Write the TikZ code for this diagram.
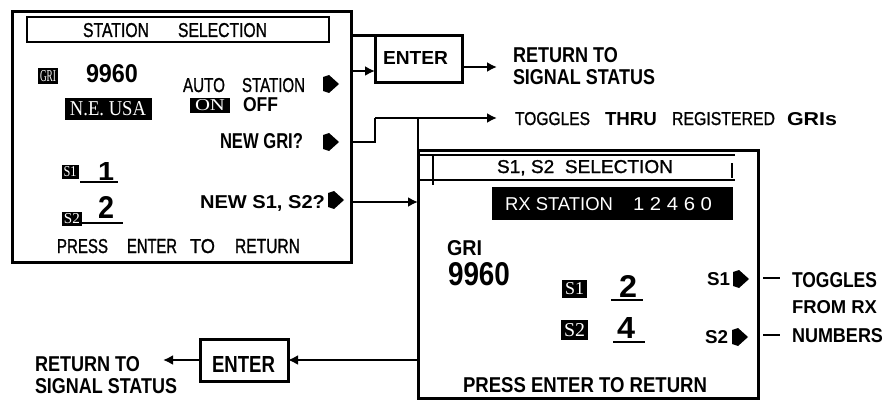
\documentclass[tikz,border=0pt]{standalone}
\usepackage{fontspec}
\setmainfont{Liberation Sans}
\newfontfamily\invf{Liberation Serif}
\newfontfamily\med[FakeBold=1.2]{Liberation Sans}
\usepackage{graphicx}
\usetikzlibrary{arrows.meta}
\newcommand{\fitt}[3]{\resizebox{#1pt}{#2pt}{#3}}
\newcommand{\mk}[2]{\fill (#1,#2) ++(0,-7) -- ++(6,-2) -- ++(10,9) -- ++(-10,9) -- ++(-6,-2) -- cycle;}
\begin{document}
\begin{tikzpicture}[x=1pt,y=-1pt,
 lbl/.style={inner sep=0pt, outer sep=0pt, anchor=base west},
 bx/.style={draw, line width=3pt, inner sep=0pt, outer sep=0pt},
 inv/.style={fill=black, text=white, inner sep=0pt, outer sep=0pt, font=\invf},
 arr/.style={line width=2.5pt, -{Latex[length=10pt,width=10pt]}},
 ln/.style={line width=2.5pt},
 thin/.style={line width=1.8pt}]
\useasboundingbox (0,0) rectangle (888,401);

% ---------- screen 1 ----------
\node[bx, minimum width=339pt, minimum height=250pt] (scr1) at (181.5,137) {};
\node[draw, thin, inner sep=0pt, minimum width=302pt, minimum height=25pt] (tb1) at (178,29.5) {};
\node[lbl] (s1t1) at (83,37) {\fitt{66}{14}{\med STATION}};
\node[lbl] (s1t2) at (178,37) {\fitt{89}{14}{\med SELECTION}};

\node[inv, minimum width=20pt, minimum height=16pt] (gri1) at (48,76) {\fitt{16}{11}{GRI}};
\node[lbl] (n9960a) at (86,83) {\fitt{52}{18}{\textbf{9960}}};
\node[inv, minimum width=87pt, minimum height=22pt] (neusa) at (108,109) {\fitt{76}{14}{N.E. USA}};

\node[lbl] (auto) at (183,92) {\fitt{42}{14}{\med AUTO}};
\node[lbl] (stat) at (242,92) {\fitt{63}{14}{\med STATION}};
\node[inv, minimum width=40pt, minimum height=15pt] (on) at (210,105.5) {\fitt{30}{11}{ON}};
\node[lbl] (off) at (243,112) {\fitt{35}{14}{\textbf{OFF}}};
\mk{323}{84}

\node[lbl] (newgri) at (220,148) {\fitt{83}{15}{\textbf{NEW GRI?}}};
\mk{323}{142}

\node[inv, minimum width=17pt, minimum height=14pt] (s1a) at (70,171.5) {\fitt{13}{10}{S1}};
\node[lbl] (one) at (98,180) {\fitt{16}{18}{\textbf{1}}};
\draw[ln] (80,182) -- (118,182);
\node[inv, minimum width=20pt, minimum height=14pt] (s2a) at (72,218.5) {\fitt{16}{10}{S2}};
\node[lbl] (two) at (98,218) {\fitt{16}{22}{\textbf{2}}};
\draw[ln] (82,223) -- (123,223);

\node[lbl] (news12) at (200,208) {\fitt{125}{13}{\textbf{NEW S1, S2?}}};
\mk{328}{200}

\node[lbl] (pr1) at (57,253) {\fitt{51}{14}{\med PRESS}};
\node[lbl] (pr2) at (127,253) {\fitt{50}{14}{\med ENTER}};
\node[lbl] (pr3) at (190,253) {\fitt{25}{14}{\med TO}};
\node[lbl] (pr4) at (235,253) {\fitt{65}{14}{\med RETURN}};

% ---------- top ENTER ----------
\node[bx, minimum width=87pt, minimum height=47pt] (enter1) at (418.5,59.5) {};
\node[lbl] (ent1t) at (383,65) {\fitt{65}{13}{\textbf{ENTER}}};
\node[lbl] (ret1a) at (513,63) {\fitt{105}{15}{\textbf{RETURN TO}}};
\node[lbl] (ret1b) at (513,85) {\fitt{142}{15}{\textbf{SIGNAL STATUS}}};

\draw[line width=3pt] (scr1.east |- enter1.north) -- (enter1.north west);
\coordinate (a0) at (351,71);
\draw[arr] (a0) -- (a0 -| enter1.west);
\coordinate (r1) at (497,67);
\draw[arr] (enter1.east |- r1) -- (r1);

% ---------- toggles GRI ----------
\coordinate (gB) at (375,142);
\coordinate (gC) at (375,118);
\coordinate (tg) at (497,118);
\draw[ln] (scr1.east |- gB) -- (gB) -- (gC);
\draw[arr] (gC) -- (tg);
\node[lbl] (tog1) at (515,125) {\fitt{75}{13}{\med TOGGLES}};
\node[lbl] (tog2) at (605,125) {\fitt{52}{13}{\textbf{THRU}}};
\node[lbl] (tog3) at (672,125) {\fitt{103}{13}{\med REGISTERED}};
\node[lbl] (tog4) at (787,125) {\fitt{50}{13}{\textbf{GRIs}}};

% ---------- screen 2 ----------
\node[bx, minimum width=340pt, minimum height=248pt] (scr2) at (588,274) {};
\draw[ln] (scr2.north west |- tg) -- (scr2.north west);
\draw[line width=2.5pt] (418,155) -- (735,155);
\draw[thin] (418,180) -- (735,180);
\draw[thin] (433,155) -- (433,185);
\draw[line width=1.2pt] (732,163) -- (732,178);
\node[lbl] (s2title) at (497,173) {\fitt{176}{13}{\med S1, S2\ \ SELECTION}};

\node[fill=black, inner sep=0pt, minimum width=241pt, minimum height=33pt] (banner) at (612.5,203.5) {};
\node[lbl, text=white] (rx1) at (505,210) {\fitt{108}{13}{RX STATION}};
\node[lbl, text=white] (rx2) at (633,210) {\fitt{79}{13}{1\ 2\ 4\ 6\ 0}};

\node[lbl] (gri2) at (447,255) {\fitt{35}{15}{\textbf{GRI}}};
\node[lbl] (n9960b) at (448,285) {\fitt{62}{23}{\textbf{9960}}};

\node[inv, minimum width=25pt, minimum height=18pt] (s1b) at (574.5,289) {\fitt{19}{12}{S1}};
\node[lbl] (two2) at (619,297) {\fitt{18}{22}{\textbf{2}}};
\draw[ln] (611,300) -- (643,300);
\node[inv, minimum width=27pt, minimum height=20pt] (s2b) at (574.5,330) {\fitt{21}{13}{S2}};
\node[lbl] (four) at (617,338) {\fitt{18}{21}{\textbf{4}}};
\draw[ln] (613,342) -- (645,342);

\node[lbl] (s1r) at (707,285) {\fitt{23}{13}{\textbf{S1}}};
\mk{733}{279}
\node[lbl] (s2r) at (705,343) {\fitt{23}{13}{\textbf{S2}}};
\mk{732}{337}

\draw[ln] (763,278) -- (780,278);
\draw[ln] (763,335) -- (780,335);
\node[lbl] (rtog) at (792,287) {\fitt{85}{15}{\textbf{TOGGLES}}};
\node[lbl] (rfrom) at (792,313) {\fitt{85}{13}{\textbf{FROM RX}}};
\node[lbl] (rnum) at (792,342) {\fitt{91}{14}{\textbf{NUMBERS}}};

\node[lbl] (pr2b) at (463,392) {\fitt{244}{15}{\textbf{PRESS ENTER TO RETURN}}};

% ---------- S1,S2 arrow ----------
\coordinate (n12) at (351,202);
\draw[arr] (n12) -- (n12 -| scr2.west);

% ---------- bottom ENTER ----------
\node[bx, minimum width=88pt, minimum height=42pt] (enter2) at (244,360) {};
\node[lbl] (ent2t) at (212,372) {\fitt{63}{16}{\textbf{ENTER}}};
\draw[arr] (scr2.west |- enter2.east) -- (enter2.east);
\coordinate (r2) at (163,360);
\draw[arr] (enter2.west) -- (r2);
\node[lbl] (ret2a) at (35,371) {\fitt{105}{15}{\textbf{RETURN TO}}};
\node[lbl] (ret2b) at (35,393) {\fitt{142}{15}{\textbf{SIGNAL STATUS}}};
\end{tikzpicture}
\end{document}
